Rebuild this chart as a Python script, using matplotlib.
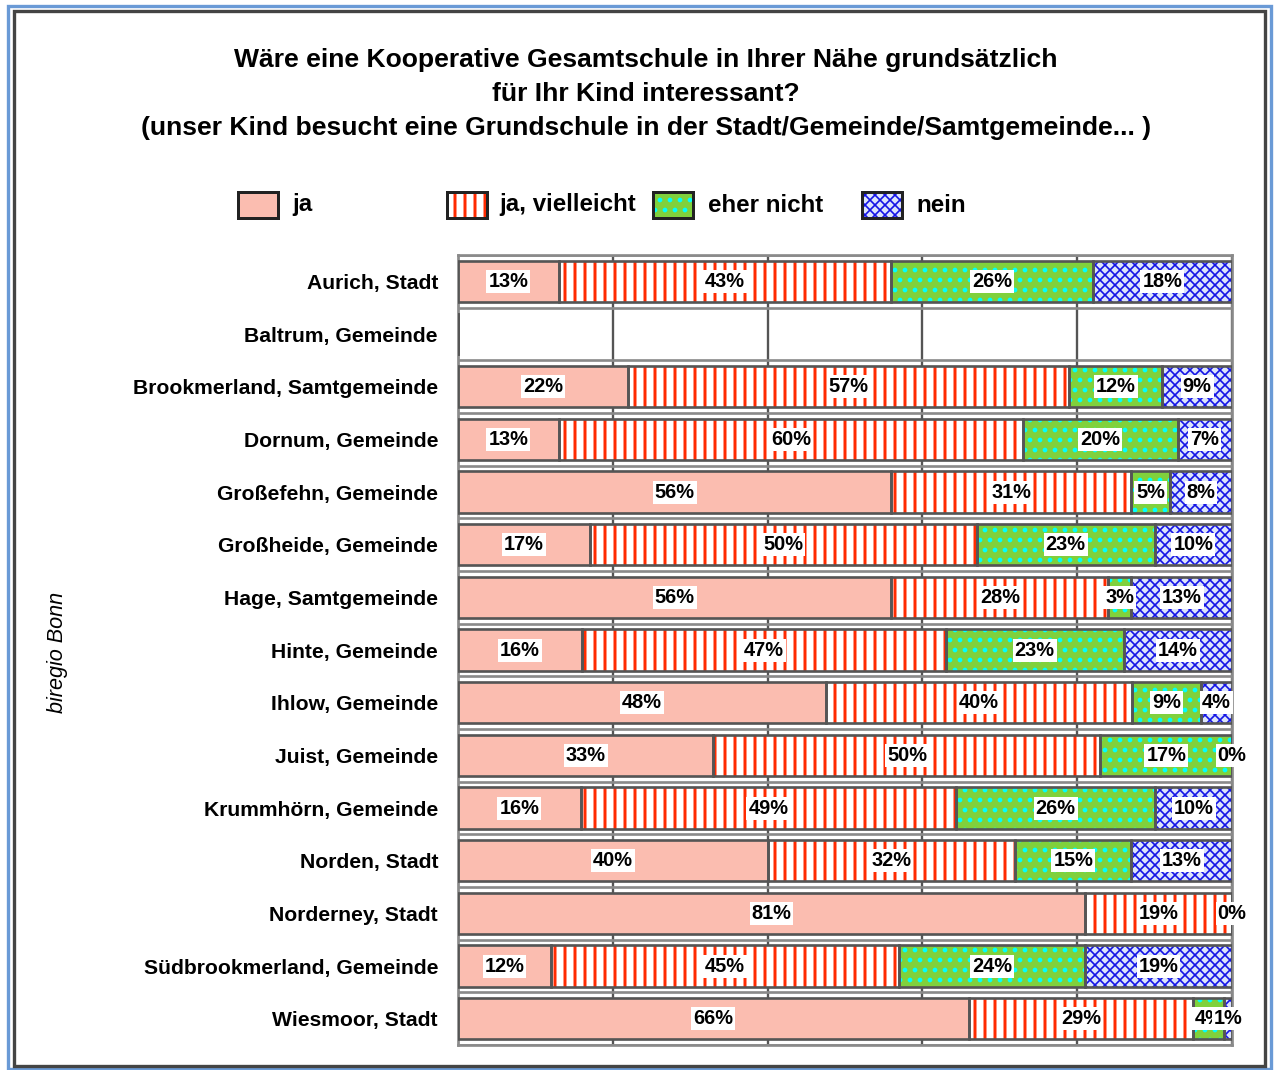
import numpy as np
import matplotlib.pyplot as plt
from matplotlib.patches import Rectangle

plt.rcParams['font.family'] = ['Liberation Sans', 'DejaVu Sans']
plt.rcParams['font.weight'] = 'bold'
plt.rcParams['hatch.linewidth'] = 1.6

######################################################################
# data
######################################################################

orte = ["Aurich, Stadt", "Baltrum, Gemeinde", "Brookmerland, Samtgemeinde",
        "Dornum, Gemeinde", "Großefehn, Gemeinde", "Großheide, Gemeinde",
        "Hage, Samtgemeinde", "Hinte, Gemeinde", "Ihlow, Gemeinde",
        "Juist, Gemeinde", "Krummhörn, Gemeinde", "Norden, Stadt",
        "Norderney, Stadt", "Südbrookmerland, Gemeinde", "Wiesmoor, Stadt"]

ja          = [13, np.nan, 22, 13, 56, 17, 56, 16, 48, 33, 16, 40, 81, 12, 66]
vielleicht  = [43, np.nan, 57, 60, 31, 50, 28, 47, 40, 50, 49, 32, 19, 45, 29]
eher_nicht  = [26, np.nan, 12, 20,  5, 23,  3, 23,  9, 17, 26, 15,  0, 24,  4]
nein        = [18, np.nan,  9,  7,  8, 10, 13, 14,  4,  0, 10, 13,  0, 19,  1]

serien = ["ja", "ja, vielleicht", "eher nicht", "nein"]

titel = ["Wäre eine Kooperative Gesamtschule in Ihrer Nähe grundsätzlich",
         "für Ihr Kind interessant?",
         "(unser Kind besucht eine Grundschule in der Stadt/Gemeinde/Samtgemeinde... )"]

######################################################################
# styles
######################################################################

stile = [dict(facecolor="#fbbdb0", hatch=None, hc="#fbbdb0", hlw=1.6),
         dict(facecolor="white", hatch="||", hc="#ff2a00", hlw=1.8),
         dict(facecolor="#80d13c", hatch="..", hc="#00ffff", hlw=1.6),
         dict(facecolor="#dce4fa", hatch="xxxx", hc="#1414e6", hlw=1.0)]

def set_hlw(patch, lw):
    try:
        patch.set_hatch_linewidth(lw)
    except AttributeError:
        pass

W, H, DPI = 1277, 1070, 120
fx = lambda x: x / W
fy = lambda y: 1 - y / H

fig = plt.figure(figsize=(W / DPI, H / DPI), dpi=DPI)
ax = fig.add_axes([fx(458), fy(1045), fx(1232) - fx(458), (1045 - 255) / H])

werte = np.array([ja, vielleicht, eher_nicht, nein], dtype=float)
summe = np.nansum(werte, axis=0)
anteile = werte / np.where(summe > 0, summe, 1) * 100
y = np.arange(len(orte))

links = np.zeros(len(orte))
for k in range(4):
    breite = np.nan_to_num(anteile[k])
    st = stile[k]
    bars = ax.barh(y, breite, left=links, height=0.78, color=st["facecolor"],
                   hatch=st["hatch"], edgecolor=st["hc"], linewidth=0, zorder=2)
    for p in bars:
        set_hlw(p, st["hlw"])
    ax.barh(y, breite, left=links, height=0.78, fill=False,
            edgecolor="#555555", linewidth=1.6, zorder=3)
    for i in range(len(orte)):
        if np.isnan(werte[k, i]):
            continue
        ax.text(links[i] + breite[i] / 2, y[i], f"{werte[k, i]:.0f}%",
                ha="center", va="center", fontsize=12, zorder=5,
                bbox=dict(facecolor="white", edgecolor="none", pad=1.2))
    links = links + breite

# row separators
for b in np.arange(-0.5, len(orte), 1.0):
    ax.axhline(b, color="#8a8a8a", linewidth=1.6, zorder=1)

ax.set_xlim(0, 100)
ax.set_ylim(len(orte) - 0.5, -0.5)
ax.set_xticks(np.arange(0, 101, 20))
ax.set_xticklabels([])
ax.tick_params(axis="x", length=0)
ax.grid(axis="x", color="#555555", linewidth=1.4, zorder=0)
ax.set_axisbelow(True)
ax.set_yticks(y)
ax.set_yticklabels(orte, fontsize=12.7)
ax.tick_params(axis="y", length=0, pad=12)
for s in ax.spines.values():
    s.set_color("#8a8a8a")
    s.set_linewidth(1.6)

######################################################################
# title, legend, frame
######################################################################

for t, yy in zip(titel, [60, 94, 128]):
    fig.text(fx(646), fy(yy), t, ha="center", va="center", fontsize=15.9)

for k, (xb, xt) in enumerate(zip([238, 447, 653, 862], [292, 499, 708, 916])):
    st = stile[k]
    r = Rectangle((fx(xb), fy(218)), fx(40), 26 / H,
                  transform=fig.transFigure, facecolor=st["facecolor"],
                  hatch=st["hatch"], edgecolor=st["hc"], linewidth=0)
    set_hlw(r, st["hlw"])
    fig.patches.append(r)
    fig.patches.append(Rectangle((fx(xb), fy(218)), fx(40), 26 / H,
                                 transform=fig.transFigure, fill=False,
                                 edgecolor="#222222", linewidth=1.8))
    fig.text(fx(xt), fy(205), serien[k], ha="left", va="center", fontsize=14.5)

fig.text(fx(58), fy(652), "biregio Bonn", rotation=90, ha="center", va="center",
         fontsize=13, style="italic", fontweight="normal")

fig.patches.append(Rectangle((fx(8), fy(1069)), fx(1263), 1063 / H,
                             transform=fig.transFigure, fill=False,
                             edgecolor="#6a9ad6", linewidth=2))
fig.patches.append(Rectangle((fx(14), fy(1066)), fx(1251), 1055 / H,
                             transform=fig.transFigure, fill=False,
                             edgecolor="#444444", linewidth=2))

fig.savefig("out.png", dpi=DPI)
